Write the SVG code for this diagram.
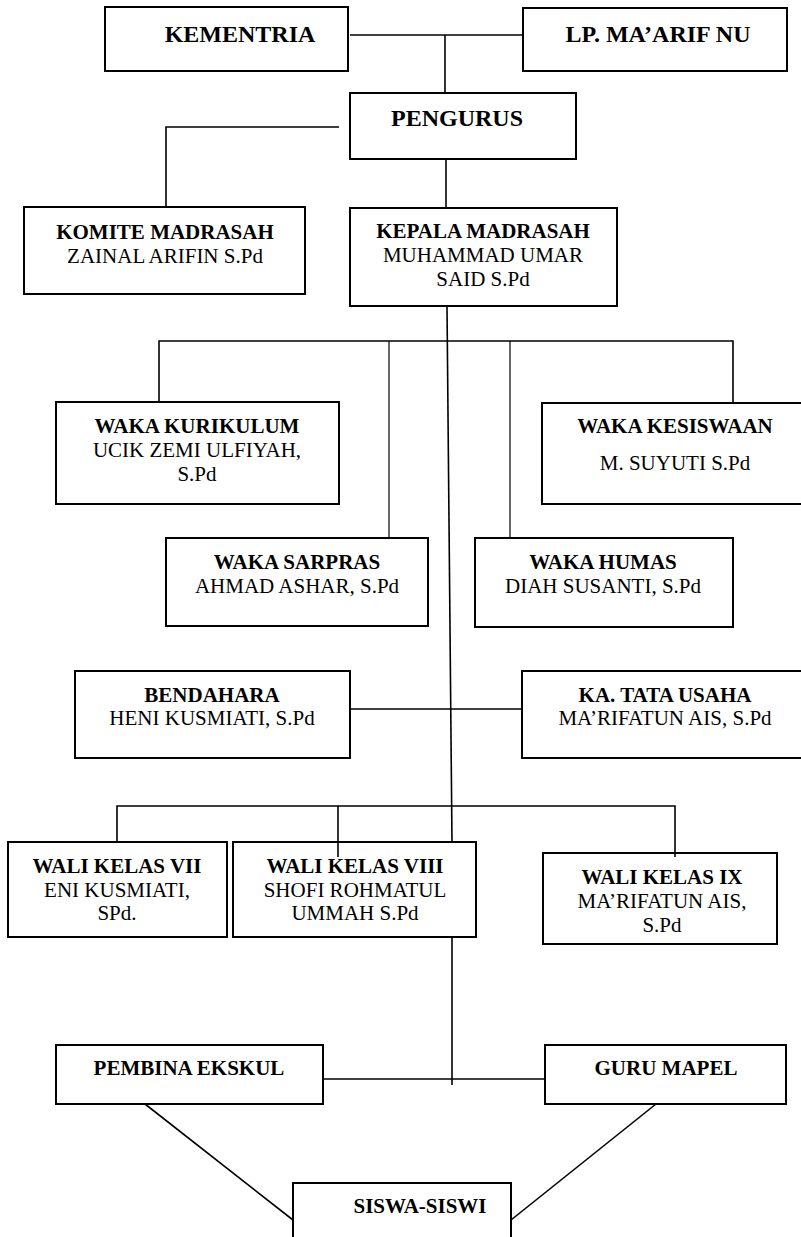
<svg xmlns="http://www.w3.org/2000/svg" width="801" height="1237" viewBox="0 0 801 1237">
<style>
.box{fill:#fff;stroke:#000;stroke-width:2}
.c{fill:none;stroke:#000;stroke-width:1.6}
.thin{fill:none;stroke:#000;stroke-width:1.2}
text{font-family:"Liberation Serif","Times New Roman",serif;font-size:21px;text-anchor:middle;fill:#000}
.b{font-weight:bold}
.big{font-size:24px;font-weight:bold}
</style>
<rect x="0" y="0" width="801" height="1237" fill="#fff"/>
<g id="connectors">
<path class="c" d="M350 35 H523"/>
<path class="c" d="M445 35 V93"/>
<path class="c" d="M339 127 H166 V207"/>
<path class="c" d="M446 159 V208"/>
<path class="c" d="M447 306 L452 842"/>
<path class="c" d="M159 402 V341 H733 V403"/>
<path class="thin" d="M389 341 V538"/>
<path class="thin" d="M510 341 V538"/>
<path class="c" d="M350 709 H522"/>
<path class="c" d="M117 843 V806 H675 V857"/>
<path class="c" d="M338 806 V857"/>
<path class="c" d="M452 937 V1085"/>
<path class="c" d="M323 1079 H545"/>
<path class="c" d="M145 1104 L293 1220"/>
<path class="c" d="M656 1104 L511 1220"/>
</g>
<g id="kementria"><rect class="box" x="105" y="7" width="243" height="64"/><text class="big" x="240" y="42">KEMENTRIA</text></g>
<g id="lpmaarif"><rect class="box" x="523" y="8" width="264" height="63"/><text class="big" x="658" y="42">LP. MA’ARIF NU</text></g>
<g id="pengurus"><rect class="box" x="350" y="93" width="226" height="66"/><text class="big" x="457" y="126">PENGURUS</text></g>
<g id="komite"><rect class="box" x="24" y="207" width="281" height="87"/><text class="b" x="165" y="239">KOMITE MADRASAH</text><text x="165" y="263">ZAINAL ARIFIN S.Pd</text></g>
<g id="kepala"><rect class="box" x="350" y="208" width="267" height="98"/><text class="b" x="483" y="238">KEPALA MADRASAH</text><text x="483" y="262">MUHAMMAD UMAR</text><text x="483" y="286">SAID S.Pd</text></g>
<g id="kurikulum"><rect class="box" x="56" y="402" width="283" height="102"/><text class="b" x="197" y="433">WAKA KURIKULUM</text><text x="197" y="457">UCIK ZEMI ULFIYAH,</text><text x="197" y="481">S.Pd</text></g>
<g id="kesiswaan"><rect class="box" x="542" y="403" width="270" height="101"/><text class="b" x="675" y="433">WAKA KESISWAAN</text><text x="675" y="470">M. SUYUTI S.Pd</text></g>
<g id="sarpras"><rect class="box" x="166" y="538" width="262" height="88"/><text class="b" x="297" y="569">WAKA SARPRAS</text><text x="297" y="593">AHMAD ASHAR, S.Pd</text></g>
<g id="humas"><rect class="box" x="475" y="538" width="258" height="89"/><text class="b" x="603" y="569">WAKA HUMAS</text><text x="603" y="593">DIAH SUSANTI, S.Pd</text></g>
<g id="bendahara"><rect class="box" x="75" y="671" width="275" height="87"/><text class="b" x="212" y="702">BENDAHARA</text><text x="212" y="725">HENI KUSMIATI, S.Pd</text></g>
<g id="tatausaha"><rect class="box" x="522" y="671" width="290" height="87"/><text class="b" x="665" y="702">KA. TATA USAHA</text><text x="665" y="725">MA’RIFATUN AIS, S.Pd</text></g>
<g id="wali7"><rect class="box" x="8" y="842" width="219" height="95"/><text class="b" x="117" y="873">WALI KELAS VII</text><text x="117" y="897">ENI KUSMIATI,</text><text x="117" y="920">SPd.</text></g>
<g id="wali8"><rect class="box" x="233" y="842" width="243" height="95"/><text class="b" x="355" y="873">WALI KELAS VIII</text><text x="355" y="897">SHOFI ROHMATUL</text><text x="355" y="920">UMMAH S.Pd</text></g>
<g id="wali9"><rect class="box" x="543" y="853" width="234" height="91"/><text class="b" x="662" y="884">WALI KELAS IX</text><text x="662" y="908">MA’RIFATUN AIS,</text><text x="662" y="932">S.Pd</text></g>
<g id="pembina"><rect class="box" x="56" y="1045" width="267" height="59"/><text class="b" x="189" y="1075">PEMBINA EKSKUL</text></g>
<g id="gurumapel"><rect class="box" x="545" y="1045" width="241" height="59"/><text class="b" x="666" y="1075">GURU MAPEL</text></g>
<g id="siswa"><rect class="box" x="293" y="1183" width="218" height="70"/><text class="b" x="420" y="1213">SISWA-SISWI</text></g>
<g id="connectors-overlay">
<path class="c" d="M338 842 V857"/>
<path class="c" d="M675 853 V857"/>
</g>
</svg>
